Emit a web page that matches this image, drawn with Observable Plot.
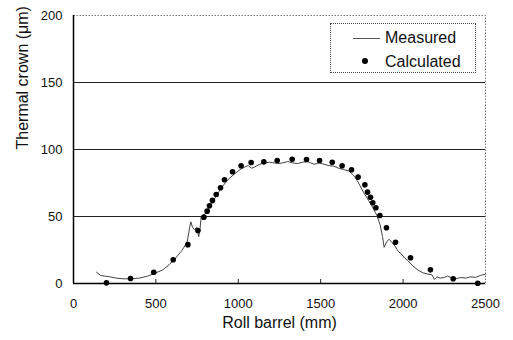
<!DOCTYPE html>
<html>
<head>
<meta charset="utf-8">
<script src="https://cdn.jsdelivr.net/npm/d3@7"></script>
<script src="https://cdn.jsdelivr.net/npm/@observablehq/plot@0.6"></script>
<style>
  body { margin: 0; background: #fff; }
  #wrap { position: relative; width: 513px; height: 340px; font-family: "Liberation Sans", Arial, sans-serif; }
  #legend { position: absolute; left: 330px; top: 23px; width: 146px; height: 50px; border: 1px dotted #444; box-sizing: border-box; background: #fff; }
  .lg-row { position: absolute; left: 0; font-size: 16px; color: #111; white-space: nowrap; }
  .lg-line { position: absolute; width: 27px; height: 0; border-top: 1px solid #555; }
  .lg-dot { position: absolute; width: 6px; height: 6px; border-radius: 50%; background: #000; }
</style>
</head>
<body>
<div id="wrap"></div>
<script>
// Measured profile (Roll barrel mm, thermal crown µm)
const measuredX = [140, 165, 190, 220, 260, 300, 350, 400, 450, 500, 540, 580, 620, 660, 690, 705, 712, 722, 735, 748, 760, 768, 775, 800, 830, 860, 890, 920, 950, 980, 1010, 1040, 1060, 1080, 1100, 1130, 1160, 1190, 1220, 1240, 1270, 1300, 1330, 1360, 1390, 1420, 1440, 1460, 1490, 1520, 1550, 1580, 1610, 1640, 1670, 1690, 1710, 1730, 1760, 1790, 1810, 1840, 1860, 1875, 1885, 1900, 1915, 1930, 1950, 1970, 1990, 2010, 2030, 2060, 2090, 2120, 2150, 2175, 2190, 2205, 2225, 2250, 2270, 2290, 2320, 2350, 2380, 2410, 2440, 2470, 2500];
const measuredY = [8.4, 6, 5.5, 5, 4, 3.5, 3.5, 4, 5.5, 8, 10, 14, 19, 25, 31, 42, 46, 42, 40, 42, 35, 41, 50, 52, 58, 64, 70, 75, 79, 82, 85, 87, 88, 86, 87, 89, 90, 90.5, 90, 89.5, 90, 91, 90, 89.5, 90.5, 91, 90, 89, 90, 89, 88, 87.5, 86, 85, 84, 82, 79, 75, 68, 62, 58, 51, 44, 35, 27, 31, 33, 31, 28, 24, 22, 19, 17, 13, 10, 8, 7, 6.5, 3, 5, 4, 4.5, 5.5, 4.5, 3.5, 4.5, 4, 5, 4.5, 6, 7];

// Calculated points
const calcX = [200, 346, 487, 605, 694, 755, 791, 811, 825, 843, 866, 892, 916, 965, 1017, 1078, 1155, 1236, 1327, 1414, 1493, 1570, 1630, 1687, 1727, 1768, 1784, 1802, 1816, 1835, 1859, 1899, 1954, 2045, 2166, 2304, 2453];
const calcY = [0.5, 3.7, 8.4, 17.7, 29, 39.6, 49.5, 54, 58, 62, 66.4, 71.4, 77.4, 83.4, 87.9, 90.3, 90.8, 91.8, 92.7, 92.5, 91.8, 90.5, 87.9, 84.9, 79.4, 73.7, 68.2, 64.4, 60.3, 56.5, 50.7, 41.6, 30.8, 19.2, 10.2, 3.5, 0.2];

const xTicks = [0, 500, 1000, 1500, 2000, 2500];
const yTicks = [0, 50, 100, 150, 200];
const gridY = [50, 100, 150];
const xLabel = "Roll barrel (mm)";
const yLabel = "Thermal crown (μm)";
const legendLabels = ["Measured", "Calculated"];

const measured = measuredX.map((x, i) => ({x, y: measuredY[i]}));
const calc = calcX.map((x, i) => ({x, y: calcY[i]}));

const chart = Plot.plot({
  width: 513,
  height: 340,
  marginLeft: 73,
  marginRight: 28,
  marginTop: 15,
  marginBottom: 57,
  style: { fontFamily: "Liberation Sans, Arial, sans-serif", fontSize: "13px", color: "#111", background: "#fff" },
  x: { domain: [0, 2500] },
  y: { domain: [0, 200] },
  marks: [
    Plot.frame({ stroke: "#777", strokeDasharray: "1.5,1.5" }),
    Plot.ruleY(gridY, { stroke: "#222", strokeWidth: 1 }),
    Plot.ruleX(xTicks.slice(1, -1), { y1: 0, y2: 3, stroke: "#222" }),
    Plot.ruleY(yTicks.slice(1, -1), { x1: 0, x2: 18, stroke: "#222" }),
    Plot.axisX(xTicks, { tickSize: 0, tickPadding: 15, label: null, fontSize: 13, tickFormat: d => String(d) }),
    Plot.axisY(yTicks, { tickSize: 0, tickPadding: 11, label: null, fontSize: 13, tickFormat: d => String(d) }),
    Plot.text([xLabel], { text: d => d, frameAnchor: "bottom", dy: 44, fontSize: 16, letterSpacing: 0.8, fill: "#111" }),
    Plot.text([yLabel], { text: d => d, frameAnchor: "left", dx: -51, rotate: -90, fontSize: 16, letterSpacing: 0.8, fill: "#111" }),
    Plot.line(measured, { x: "x", y: "y", stroke: "#444", strokeWidth: 1 }),
    Plot.dot(calc, { x: "x", y: "y", r: 2.8, fill: "#000", stroke: "none" }),
    Plot.ruleX([0], { stroke: "#000", strokeWidth: 1.5 }),
    Plot.ruleY([0], { stroke: "#000", strokeWidth: 1.5 })
  ]
});

const wrap = document.getElementById("wrap");
wrap.appendChild(chart);

const legend = document.createElement("div");
legend.id = "legend";
legend.innerHTML = `
  <div class="lg-line" style="left:22px; top:14px;"></div>
  <div class="lg-row" style="left:54px; top:5px;">${legendLabels[0]}</div>
  <div class="lg-dot" style="left:31px; top:34px;"></div>
  <div class="lg-row" style="left:54px; top:29px;">${legendLabels[1]}</div>`;
wrap.appendChild(legend);
</script>
</body>
</html>
